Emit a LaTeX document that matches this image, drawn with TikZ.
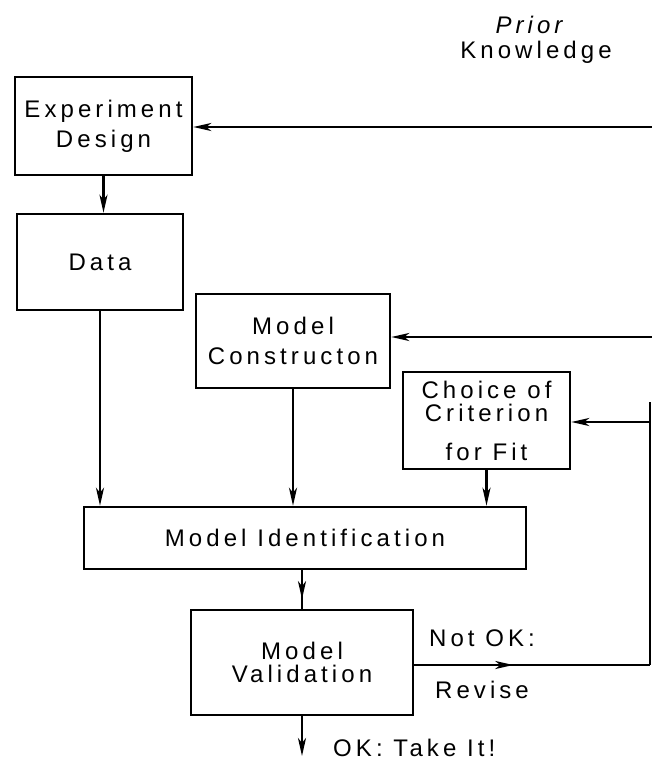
\documentclass[tikz,border=0pt]{standalone}
\usepackage{fontspec}
\setmainfont[LetterSpace=17]{Liberation Sans}
\usetikzlibrary{arrows.meta,decorations.markings}
\begin{document}
\begin{tikzpicture}[x=1pt,y=-1pt,
  txt/.style={font=\fontsize{24}{30}\selectfont},
  box/.style={txt, draw, line width=2.5pt, align=center, inner sep=0pt},
  lbl/.style={txt, inner sep=0pt, align=center},
  link/.style={line width=2.4pt},
  tip/.style={link, -{Stealth[length=18pt,width=8pt,inset=5pt]}},
  midtip/.style={link, postaction={decorate},
    decoration={markings, mark=at position #1 with {\arrow{Stealth[length=18pt,width=8pt,inset=5pt]}}}}
]
\useasboundingbox (0,0) rectangle (652,764);

% boxes
\node[box, minimum width=177pt, minimum height=98pt] (exp) at (103.5,126) {Experiment\\Design};
\node[box, minimum width=166pt, minimum height=96pt] (data) at (100,262) {Data};
\node[box, minimum width=194pt, minimum height=94pt] (mc) at (293,341) {Model\\Constructon};
\node[box, minimum width=167pt, minimum height=97pt] (crit) at (486.5,420.5) {Choice of\\[-7pt]Criterion\\[9pt]for Fit};
\node[box, minimum width=442pt, minimum height=62pt] (mi) at (305,538) {Model Identification};
\node[box, minimum width=222pt, minimum height=105pt] (mv) at (302,662.5) {Model\\[-7pt]Validation};

% labels
\node[lbl, font=\fontsize{24}{30}\selectfont\itshape] (prior) at (529,25) {Prior};
\node[lbl] (know) at (536,52) {Knowledge};
\node[lbl] (notok) at (482,638) {Not OK:};
\node[lbl] (revise) at (482,690) {Revise};
\node[lbl, anchor=west] (take) at (333,748) {OK: Take It!};

% entry points of the prior-knowledge lines at the right edge
\coordinate (pk1) at (652,127);
\coordinate (pk2) at (652,337);
\coordinate (pk3) at (650,422);
\coordinate (rtop) at (650,402);
\coordinate (rv) at (650,665);
\coordinate (okend) at (302,756);

% connectors
\draw[tip] (exp.south) -- (exp.south |- data.north);
\draw[tip] (pk1) -- (pk1 -| exp.east);
\draw[tip] (pk2) -- (pk2 -| mc.east);
\draw[tip] (pk3) -- (pk3 -| crit.east);
\draw[tip] (data.south) -- (data.south |- mi.north);
\draw[tip] (mc.south) -- (mc.south |- mi.north);
\draw[tip] (crit.south) -- (crit.south |- mi.north);
\draw[midtip=0.75] (mi.south -| mv.north) -- (mv.north);
\draw[midtip=0.42] (rv -| mv.east) -- (rv);
\draw[link] (rv) -- (rtop);
\draw[tip] (mv.south) -- (okend);
\end{tikzpicture}
\end{document}
